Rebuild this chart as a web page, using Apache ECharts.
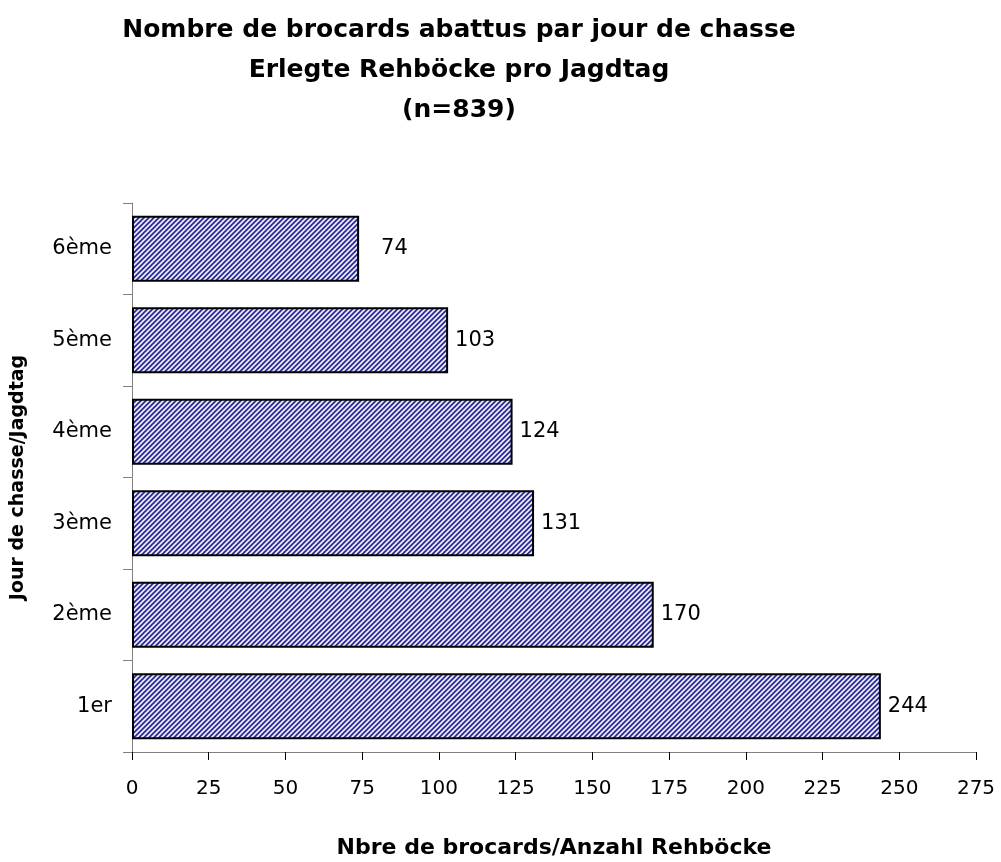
<!DOCTYPE html>
<html>
<head>
<meta charset="utf-8">
<script src="https://cdn.jsdelivr.net/npm/echarts@6/dist/echarts.min.js"></script>
<style>
  html, body { margin: 0; padding: 0; background: #ffffff; }
  #chart { width: 1001px; height: 862px; }
</style>
</head>
<body>
<div id="chart"></div>
<script>
// Jours de chasse (du bas vers le haut)
const categories = ['1er', '2ème', '3ème', '4ème', '5ème', '6ème'];
const values = [244, 170, 131, 124, 103, 74];
const xTicks = [0, 275, 25]; // min, max, interval

const FONT = '"DejaVu Sans", "Liberation Sans", Arial, sans-serif';

// hachures diagonales bleu / blanc
function makeHatch() {
  const c = document.createElement('canvas');
  c.width = 5;
  c.height = 5;
  const ctx = c.getContext('2d');
  const cols = ['#333399', '#333399', '#9a9ad0', '#ffffff', '#b8b8e0'];
  for (let y = 0; y < 5; y += 1) {
    for (let x = 0; x < 5; x += 1) {
      ctx.fillStyle = cols[(x + y) % 5];
      ctx.fillRect(x, y, 1, 1);
    }
  }
  return c;
}

const chart = echarts.init(document.getElementById('chart'), null, { renderer: 'canvas' });

// étiquette du 6ème jour un peu décalée, comme dans l'original
const barData = values.map((v, i) => (i === values.length - 1
  ? { value: v, label: { distance: 22 } }
  : v));

chart.setOption({
  animation: false,
  backgroundColor: '#ffffff',
  title: {
    text: 'Nombre de brocards abattus par jour de chasse\nErlegte Rehböcke pro Jagdtag\n(n=839)',
    left: 454,
    textAlign: 'center',
    top: 5,
    textStyle: { fontFamily: FONT, fontSize: 25, fontWeight: 'bold', color: '#000', lineHeight: 40 }
  },
  grid: { left: 132, right: 25, top: 203, bottom: 110, containLabel: false, outerBoundsMode: 'none' },
  xAxis: {
    type: 'value',
    min: xTicks[0],
    max: xTicks[1],
    interval: xTicks[2],
    name: 'Nbre de brocards/Anzahl Rehböcke',
    nameLocation: 'middle',
    nameGap: 85,
    nameTextStyle: { fontFamily: FONT, fontSize: 22, fontWeight: 'bold', color: '#000' },
    axisLine: { show: true, lineStyle: { color: '#808080', width: 1 } },
    axisTick: { show: true, length: 8, lineStyle: { color: '#000' } },
    axisLabel: { fontFamily: FONT, fontSize: 20, color: '#000', margin: 27 },
    splitLine: { show: false }
  },
  yAxis: {
    type: 'category',
    data: categories,
    name: 'Jour de chasse/Jagdtag',
    nameLocation: 'middle',
    nameGap: 104,
    nameTextStyle: { fontFamily: FONT, fontSize: 19, fontWeight: 'bold', color: '#000' },
    axisLine: { show: true, lineStyle: { color: '#808080', width: 1 } },
    axisTick: { show: true, length: 9, inside: false, lineStyle: { color: '#808080' } },
    axisLabel: { fontFamily: FONT, fontSize: 21, color: '#000', margin: 20 },
    splitLine: { show: false }
  },
  series: [
    {
      type: 'bar',
      data: barData,
      barCategoryGap: '28%',
      itemStyle: {
        color: { image: makeHatch(), repeat: 'repeat' },
        borderColor: '#000',
        borderWidth: 2
      },
      label: {
        show: true,
        position: 'right',
        distance: 7,
        fontFamily: FONT,
        fontSize: 21,
        color: '#000'
      }
    }
  ]
});
</script>
</body>
</html>
